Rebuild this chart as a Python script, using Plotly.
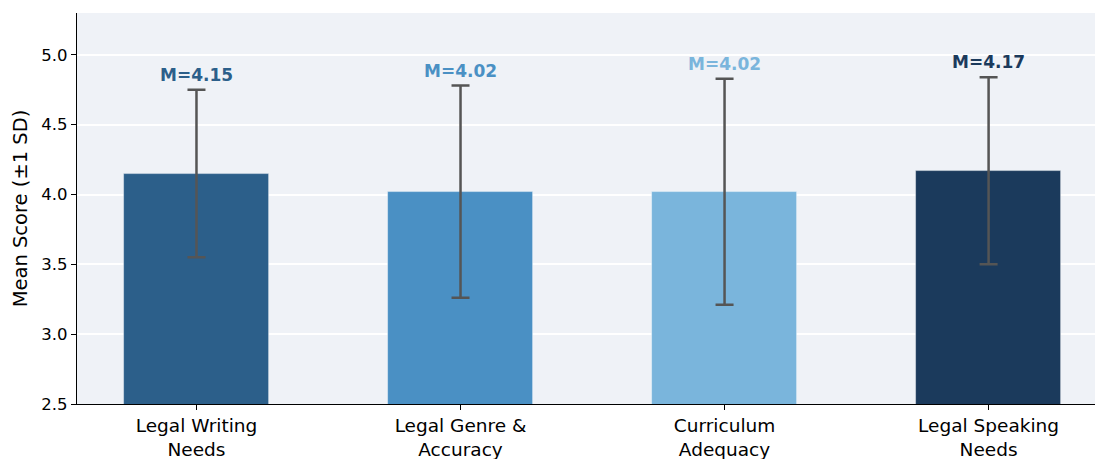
import plotly.graph_objects as go

categories = ["Legal Writing<br>Needs", "Legal Genre &<br>Accuracy", "Curriculum<br>Adequacy", "Legal Speaking<br>Needs"]
means = [4.15, 4.02, 4.02, 4.17]
sds = [0.60, 0.76, 0.81, 0.67]
colors = ["#2c5f8a", "#4a90c4", "#7ab5dc", "#1b3a5c"]
y_ticks = [2.5, 3.0, 3.5, 4.0, 4.5, 5.0]

x = list(range(len(categories)))

fig = go.Figure()
fig.add_trace(go.Bar(
    x=x, y=means, width=0.55,
    marker=dict(color=colors, line=dict(color="rgba(255,255,255,0.5)", width=0.8)),
    error_y=dict(type="data", array=sds, visible=True, color="#555555", thickness=2.5, width=9),
    showlegend=False,
))

# reference line at the scale midpoint
fig.add_shape(type="line", xref="paper", x0=0, x1=1, yref="y", y0=4.0, y1=4.0,
              line=dict(color="#bbbbbb", width=1.2, dash="dash"), layer="below")

for xi, m, s, c in zip(x, means, sds, colors):
    fig.add_annotation(x=xi, y=m + s + 0.02, text=f"<b>M={m:.2f}</b>", showarrow=False,
                       yanchor="bottom", font=dict(size=17, color=c, family="DejaVu Sans"))

fig.update_layout(
    width=1095, height=459,
    margin=dict(l=77, r=0, t=13, b=55),
    paper_bgcolor="white", plot_bgcolor="#eff2f7",
    font=dict(family="DejaVu Sans", color="#000000"),
    bargap=0,
)
fig.update_xaxes(
    range=[-0.4525, 3.403], tickmode="array", tickvals=x, ticktext=categories,
    showgrid=False, zeroline=False, showline=True, linecolor="#000000", linewidth=1.2,
    ticks="outside", ticklen=5, tickcolor="#000000", tickfont=dict(size=18.5),
    automargin=False,
)
fig.update_yaxes(
    range=[2.5, 5.3], tickmode="array", tickvals=y_ticks, ticktext=[f"{v:.1f}" for v in y_ticks],
    showgrid=True, gridcolor="#ffffff", gridwidth=2, zeroline=False,
    showline=True, linecolor="#000000", linewidth=1.2,
    ticks="outside", ticklen=5, tickcolor="#000000", tickfont=dict(size=16.5),
    title=dict(text="Mean Score (±1 SD)", font=dict(size=19.5), standoff=8),
    automargin=False,
)

fig.write_html("out.html")
